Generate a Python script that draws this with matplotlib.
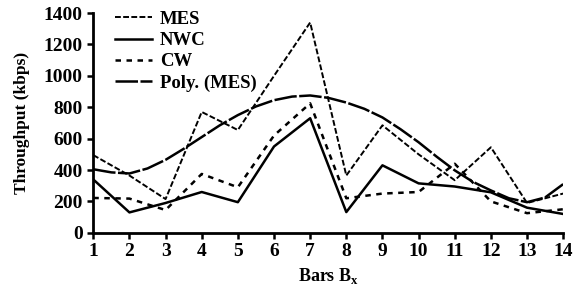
import numpy as np
import matplotlib.pyplot as plt

plt.rcParams['font.family'] = 'Liberation Serif'
plt.rcParams['font.weight'] = 'bold'

bars = np.arange(1, 15)
mes = [495, 365, 215, 770, 655, 1000, 1340, 365, 685, 500, 335, 545, 190, 250]
nwc = [340, 130, 190, 260, 195, 550, 730, 132, 430, 315, 295, 258, 160, 120]
cw = [222, 218, 145, 375, 290, 620, 825, 220, 250, 260, 440, 200, 125, 150]
poly_x = np.arange(1, 14.5, 0.5)
poly_mes = [405, 385, 378, 410, 465, 535, 610, 685, 750, 805, 845, 868, 875,
            860, 830, 790, 735, 660, 577, 485, 398, 325, 270, 220, 195, 225, 310]

fig = plt.figure(figsize=(5.83, 2.91), dpi=100)
ax = fig.add_axes([0.16, 0.2, 0.806, 0.755])

ax.plot(bars, mes, 'k', lw=1.4, dashes=(3, 1.2), label='MES')
ax.plot(bars, nwc, 'k', lw=1.8, label='NWC')
ax.plot(bars, cw, 'k', lw=1.8, dashes=(2.2, 2.2), label='CW')
ax.plot(poly_x, poly_mes, 'k', lw=1.8, dashes=(9, 1), label='Poly. (MES)')

ax.set_xlim(1, 14)
ax.set_ylim(0, 1400)
ax.set_xticks(bars)
ax.set_yticks(np.arange(0, 1401, 200))
ax.set_xlabel('Bars B$_\\mathregular{x}$', fontsize=13, fontweight='bold', labelpad=4)
ax.set_ylabel('Throughput (kbps)', fontsize=12.5, fontweight='bold', labelpad=10)
ax.tick_params(axis='both', labelsize=14, width=1.8, length=4, direction='out')
for s in ['top', 'right']:
    ax.spines[s].set_visible(False)
for s in ['left', 'bottom']:
    ax.spines[s].set_linewidth(2)

ax.legend(frameon=False, loc='upper left', bbox_to_anchor=(0.018, 1.07),
          prop={'size': 13.5, 'weight': 'bold'}, handlelength=2.0,
          labelspacing=0.22, handletextpad=0.4, borderpad=0.2)

fig.savefig('out.png', dpi=100)
